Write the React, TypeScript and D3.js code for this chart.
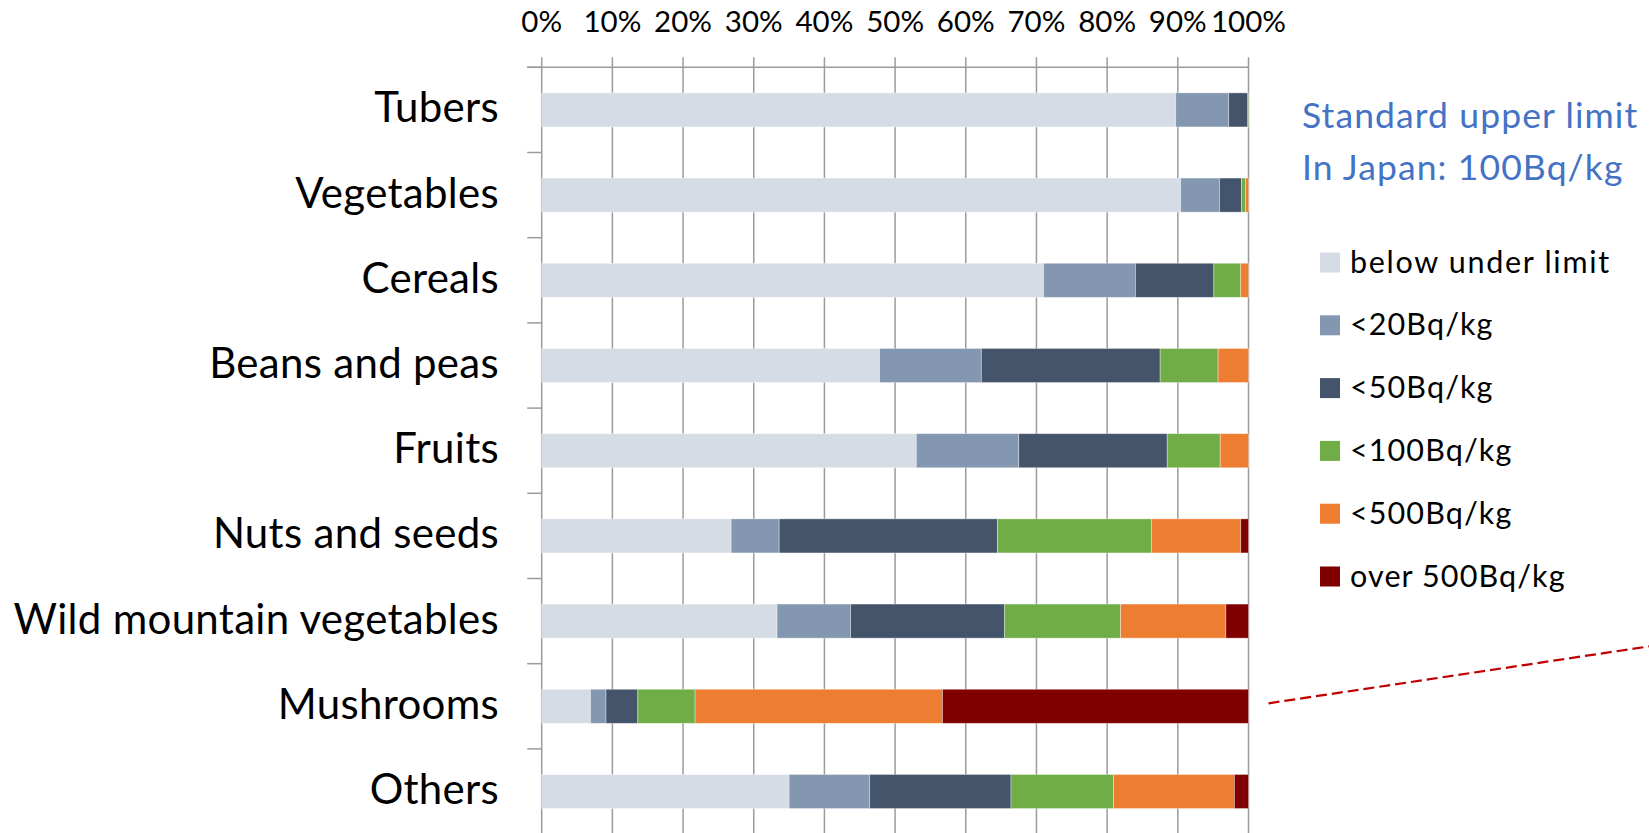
import React from "react";
import * as d3 from "d3";

// Food categories (top to bottom)
const categories = [
  "Tubers",
  "Vegetables",
  "Cereals",
  "Beans and peas",
  "Fruits",
  "Nuts and seeds",
  "Wild mountain vegetables",
  "Mushrooms",
  "Others",
];

// Share of samples (%) in each contamination class, per category
const belowLimit = [89.7, 90.4, 71.0, 47.8, 53.0, 26.8, 33.3, 6.9, 35.0];
const under20 = [7.5, 5.5, 13.0, 14.4, 14.5, 6.8, 10.4, 2.2, 11.4];
const under50 = [2.7, 3.1, 11.1, 25.3, 21.0, 30.9, 21.8, 4.5, 20.0];
const under100 = [0.1, 0.6, 3.8, 8.2, 7.5, 21.8, 16.4, 8.1, 14.5];
const under500 = [0.0, 0.4, 1.1, 4.3, 4.0, 12.6, 14.9, 35.0, 17.1];
const over500 = [0.0, 0.0, 0.0, 0.0, 0.0, 1.1, 3.2, 43.3, 2.0];

const seriesKeys = ["below", "lt20", "lt50", "lt100", "lt500", "over"];
const seriesLabels = [
  "below under limit",
  "<20Bq/kg",
  "<50Bq/kg",
  "<100Bq/kg",
  "<500Bq/kg",
  "over 500Bq/kg",
];
const seriesColors = ["#D6DCE5", "#8497B0", "#44546A", "#70AD47", "#ED7D31", "#800000"];

const tickValues = [0, 10, 20, 30, 40, 50, 60, 70, 80, 90, 100];

const noteLines = ["Standard upper limit", "In Japan: 100Bq/kg"];

const W = 1649;
const H = 833;
const FONT = "Lato, 'Open Sans', sans-serif";

export default function App() {
  const rows = categories.map((c, i) => ({
    category: c,
    below: belowLimit[i],
    lt20: under20[i],
    lt50: under50[i],
    lt100: under100[i],
    lt500: under500[i],
    over: over500[i],
  }));

  const stacked = d3.stack<any>().keys(seriesKeys)(rows);

  const x = d3.scaleLinear().domain([0, 100]).range([541.7, 1248.5]);
  const y = d3
    .scaleBand<string>()
    .domain(categories)
    .range([67.3, 834.1])
    .paddingInner(0.6)
    .paddingOuter(0.3);

  const step = y.step();
  const top = y.range()[0];
  const gridColor = "#9b9b9b";

  // dashed pointer leaving the Mushrooms bar toward the right edge
  const mushY = (y("Mushrooms") as number) + y.bandwidth() / 2;
  const lx0 = x(100) + 20;
  const ly0 = mushY - 3;
  const lx1 = W + 60;
  const ly1 = ly0 - 0.1496 * (lx1 - lx0);

  const legendX = 1320;
  const legendY0 = 262.5;
  const legendStep = 62.8;

  return (
    <svg
      width={W}
      height={H}
      viewBox={`0 0 ${W} ${H}`}
      style={{ position: "absolute", left: 0, top: 0, background: "#fff" }}
      fontFamily={FONT}
    >
      {/* vertical gridlines with tick marks above the top axis */}
      {tickValues.map((t) => (
        <line
          key={"g" + t}
          x1={x(t)}
          x2={x(t)}
          y1={top - 10}
          y2={H}
          stroke={gridColor}
          strokeWidth={1.5}
        />
      ))}
      {/* top axis line */}
      <line x1={x(0) - 14.5} x2={x(100)} y1={top} y2={top} stroke={gridColor} strokeWidth={1.5} />
      {/* category ticks on the left axis */}
      {d3.range(categories.length + 1).map((k) => (
        <line
          key={"c" + k}
          x1={x(0) - 14.5}
          x2={x(0)}
          y1={top + k * step}
          y2={top + k * step}
          stroke={gridColor}
          strokeWidth={1.5}
        />
      ))}
      {/* tick labels */}
      {tickValues.map((t) => (
        <text key={"t" + t} x={x(t)} y={32.3} textAnchor="middle" fontSize={29.5} fill="#000">
          {t}%
        </text>
      ))}

      {/* stacked bars */}
      {stacked.map((s, si) => (
        <g key={s.key} fill={seriesColors[si]}>
          {s.map((d, i) => {
            const w = x(d[1]) - x(d[0]);
            if (w <= 0) return null;
            return (
              <rect
                key={i}
                x={x(d[0])}
                y={y(categories[i])}
                width={w}
                height={y.bandwidth()}
                stroke="rgba(255,255,255,0.45)"
                strokeWidth={0.8}
              />
            );
          })}
        </g>
      ))}

      {/* category labels */}
      {categories.map((c) => (
        <text
          key={c}
          x={499}
          y={(y(c) as number) + y.bandwidth() / 2 + 12.5}
          textAnchor="end"
          fontSize={42}
          letterSpacing={0.3}
          fill="#000"
        >
          {c}
        </text>
      ))}

      {/* note */}
      {noteLines.map((l, i) => (
        <text key={l} x={1302} y={128 + i * 52} fontSize={35.5} fill="#4472C4" letterSpacing={1.1}>
          {l}
        </text>
      ))}

      {/* legend */}
      {seriesLabels.map((l, i) => {
        const cy = legendY0 + i * legendStep;
        return (
          <g key={l}>
            <rect x={legendX} y={cy - 10} width={20} height={20} fill={seriesColors[i]} />
            <text
              x={1350}
              y={cy + 10}
              fontSize={30.5}
              fill="#000"
              letterSpacing={i === 0 ? 1.7 : 1.1}
            >
              {l}
            </text>
          </g>
        );
      })}

      <line
        x1={lx0}
        y1={ly0}
        x2={lx1}
        y2={ly1}
        stroke="#C00000"
        strokeWidth={2.2}
        strokeDasharray="11 5"
      />
    </svg>
  );
}
